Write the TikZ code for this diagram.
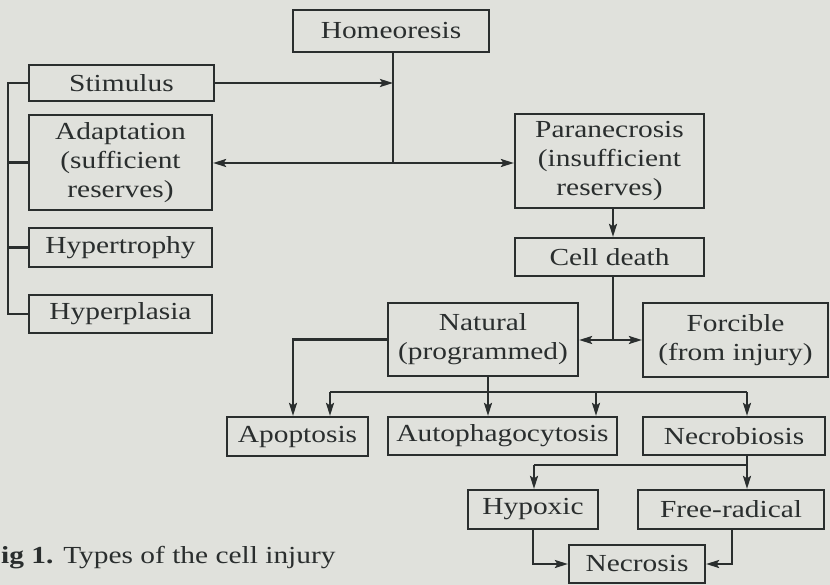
\documentclass[tikz,border=0pt]{standalone}
\usepackage{fontspec}
\setmainfont[FakeStretch=1.2]{Liberation Serif}
\usetikzlibrary{arrows.meta}
\definecolor{paper}{RGB}{224,225,220}
\definecolor{ink}{RGB}{42,46,46}
\begin{document}
\begin{tikzpicture}[x=1pt,y=-1pt,
  box/.style={draw=ink, line width=2.2pt, text=ink, inner sep=0pt, align=center, font=\fontsize{24.5}{29}\selectfont},
  ln/.style={draw=ink, line width=2.2pt},
  arr/.style={ln, -{Stealth[length=13pt,width=8pt,inset=2.5pt]}}]
\useasboundingbox (0,0) rectangle (830,585);
\fill[paper] (0,0) rectangle (830,585);

\node[box,minimum width=196pt,minimum height=42pt] (homeo) at (391,31) {Homeoresis};
\node[box,minimum width=185pt,minimum height=36pt] (stim) at (121.5,83) {Stimulus};
\node[box,minimum width=183pt,minimum height=95pt] (adapt) at (120.5,162.5) {Adaptation\\(sufficient\\reserves)};
\node[box,minimum width=183pt,minimum height=39pt] (hypert) at (120.5,247.5) {Hypertrophy};
\node[box,minimum width=183pt,minimum height=38pt] (hyperp) at (120.5,314) {Hyperplasia};
\node[box,minimum width=189pt,minimum height=94pt] (para) at (609.5,161) {Paranecrosis\\(insufficient\\reserves)};
\node[box,minimum width=189pt,minimum height=38pt] (death) at (609.5,257) {Cell death};
\node[box,minimum width=190pt,minimum height=73pt] (natural) at (483,339.5) {Natural\\(programmed)};
\node[box,minimum width=185pt,minimum height=74pt] (forc) at (735.5,340) {Forcible\\(from injury)};
\node[box,minimum width=141pt,minimum height=39pt] (apop) at (297.5,436.5) {Apoptosis};
\node[box,minimum width=229pt,minimum height=38pt] (auto) at (502.5,436) {Autophagocytosis};
\node[box,minimum width=182pt,minimum height=38pt] (necrob) at (734,436) {Necrobiosis};
\node[box,minimum width=130pt,minimum height=39pt] (hypox) at (533,509.5) {Hypoxic};
\node[box,minimum width=186pt,minimum height=39pt] (free) at (731,509.5) {Free-radical};
\node[box,minimum width=136pt,minimum height=38pt] (necrosis) at (637,564) {Necrosis};

\coordinate (J) at (393,163);
\coordinate (B) at (8,0);
\coordinate (K) at (613,340);
\coordinate (M) at (488,392);
\coordinate (L) at (330,392);
\coordinate (P) at (596,392);
\coordinate (R) at (747,392);
\coordinate (Na) at (293,0);
\coordinate (N) at (747,465);
\coordinate (N2) at (534,465);
\coordinate (Hx) at (533,0);
\coordinate (Fx) at (732,0);

\draw[ln] (homeo.south -| J) -- (J);
\draw[arr] (stim.east) -- (stim.east -| J);
\draw[arr] (J) -- (adapt.east |- J);
\draw[arr] (J) -- (para.west |- J);
\draw[ln] (stim.west) -- (stim.west -| B) -- (hyperp.west -| B) -- (hyperp.west);
\draw[ln] (adapt.west) -- (adapt.west -| B);
\draw[ln] (hypert.west) -- (hypert.west -| B);
\draw[arr] (para.south -| K) -- (death.north -| K);
\draw[ln] (death.south -| K) -- (K);
\draw[arr] (K) -- (natural.east |- K);
\draw[arr] (K) -- (forc.west |- K);
\draw[arr] (natural.west) -| (apop.north -| Na);
\draw[ln] (natural.south -| M) -- (M);
\draw[ln] (L) -- (R);
\draw[arr] (L) -- (apop.north -| L);
\draw[arr] (M) -- (auto.north -| M);
\draw[arr] (P) -- (auto.north -| P);
\draw[arr] (R) -- (necrob.north -| R);
\draw[ln] (necrob.south -| N) -- (N) -- (N2);
\draw[arr] (N2) -- (hypox.north -| N2);
\draw[arr] (N) -- (free.north -| N);
\draw[arr] (hypox.south -| Hx) |- (necrosis.west);
\draw[arr] (free.south -| Fx) |- (necrosis.east);

\node[anchor=base west, inner sep=0pt, text=ink, font=\fontsize{24.5}{29}\selectfont] (cap) at (1,563) {\textbf{ig 1.} Types of the cell injury};
\end{tikzpicture}
\end{document}
